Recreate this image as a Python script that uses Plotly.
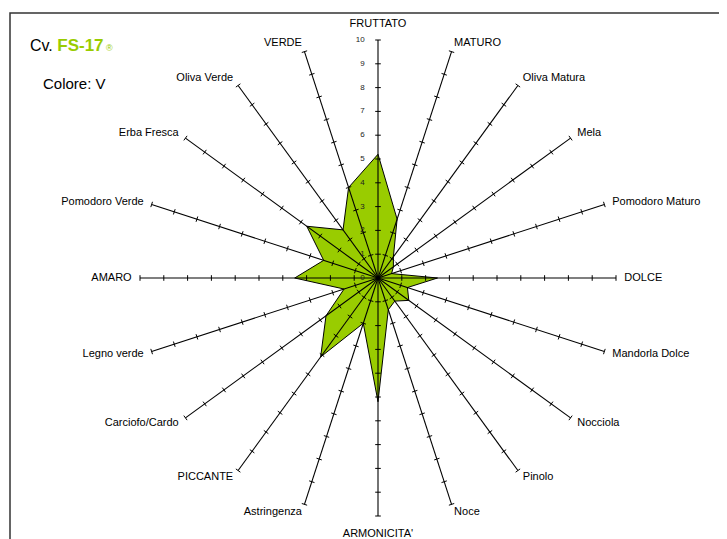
import plotly.graph_objects as go

categories = ["FRUTTATO", "MATURO", "Oliva Matura", "Mela", "Pomodoro Maturo",
              "DOLCE", "Mandorla Dolce", "Nocciola", "Pinolo", "Noce",
              "ARMONICITA'", "Astringenza", "PICCANTE", "Carciofo/Cardo", "Legno verde",
              "AMARO", "Pomodoro Verde", "Erba Fresca", "Oliva Verde", "VERDE"]
values = [5.2, 2.6, 1.1, 0.8, 0.6,
          2.5, 1.3, 1.6, 1.2, 1.4,
          5.2, 2.0, 4.1, 2.7, 1.5,
          3.5, 2.4, 3.7, 2.5, 4.0]
radial_ticks = list(range(0, 11))

GREEN = "#99cc00"
FONT = "Liberation Sans, Arial, sans-serif"

W, H = 719, 531   # page body has an 8px margin
n = len(categories)
angles = [i * 360.0 / n for i in range(n)]
RMAX = radial_ticks[-1]
RANGE_MAX = RMAX * 1.08

fig = go.Figure()

# profile polygon
fig.add_trace(go.Scatterpolar(
    r=values + [values[0]], theta=angles + [angles[0]],
    mode="lines", fill="toself", fillcolor=GREEN,
    line=dict(color="black", width=1), hoverinfo="skip"))

# spokes
sr, st = [], []
for a in angles:
    sr += [0, RMAX, None]
    st += [a, a, None]
fig.add_trace(go.Scatterpolar(r=sr, theta=st, mode="lines",
                              line=dict(color="black", width=1.1), hoverinfo="skip"))

# tick marks on each spoke
tr, tt, ta = [], [], []
for a in angles:
    for v in radial_ticks[1:]:
        tr.append(v)
        tt.append(a)
        ta.append(a)
fig.add_trace(go.Scatterpolar(r=tr, theta=tt, mode="markers",
                              marker=dict(symbol="line-ew", size=4, angle=ta,
                                          line=dict(color="black", width=1)),
                              hoverinfo="skip"))

# value labels along the FRUTTATO spoke
fig.add_trace(go.Scatterpolar(r=radial_ticks, theta=[angles[0]] * len(radial_ticks),
                              mode="text",
                              text=[str(v) + "\u00a0" * 6 for v in radial_ticks],
                              textposition="middle left",
                              textfont=dict(size=8, family=FONT, color="#222222"),
                              hoverinfo="skip", cliponaxis=False))

# category labels at the end of each spoke
positions, label_r = [], []
for a in angles:
    if a == 0:
        positions.append("top center")
        label_r.append(RMAX * 1.045)
    elif a == 180:
        positions.append("bottom center")
        label_r.append(RMAX * 1.055)
    elif a < 180:
        positions.append("middle right")
        label_r.append(RMAX * 1.035)
    else:
        positions.append("middle left")
        label_r.append(RMAX * 1.035)
fig.add_trace(go.Scatterpolar(r=label_r, theta=angles, mode="text",
                              text=categories, textposition=positions,
                              textfont=dict(size=11, family=FONT, color="black"),
                              hoverinfo="skip", cliponaxis=False))

cx, cy = 370, 270
R = 238 * RANGE_MAX / RMAX
fig.update_layout(
    width=W, height=H,
    margin=dict(l=0, r=0, t=0, b=0),
    paper_bgcolor="white", plot_bgcolor="white",
    showlegend=False,
    font=dict(family=FONT, color="black"),
    polar=dict(
        domain=dict(x=[(cx - R) / W, (cx + R) / W],
                    y=[(H - cy - R) / H, (H - cy + R) / H]),
        bgcolor="rgba(0,0,0,0)",
        angularaxis=dict(direction="clockwise", rotation=90, type="linear",
                         tickmode="array", tickvals=angles,
                         showticklabels=False,
                         showline=False, showgrid=False, ticks=""),
        radialaxis=dict(range=[0, RANGE_MAX], showticklabels=False,
                        showline=False, showgrid=False, ticks=""),
    ),
    shapes=[dict(type="rect", xref="paper", yref="paper",
                 x0=2 / W, x1=1.05, y0=-0.05, y1=1 - 5 / H,
                 line=dict(color="#333333", width=1.5))],
    annotations=[
        dict(xref="paper", yref="paper", x=20 / W, y=1 - 37 / H,
             xanchor="left", yanchor="middle", showarrow=False,
             text=("Cv. <span style='color:%s;font-weight:bold;font-size:17px'>FS-17</span>"
                   "<span style='color:%s;font-size:9px'> ®</span>") % (GREEN, GREEN),
             font=dict(size=16, family=FONT, color="black")),
        dict(xref="paper", yref="paper", x=33 / W, y=1 - 75 / H,
             xanchor="left", yanchor="middle", showarrow=False,
             text="Colore: V", font=dict(size=15, family=FONT, color="black")),
    ],
)

fig.write_html("out.html")
